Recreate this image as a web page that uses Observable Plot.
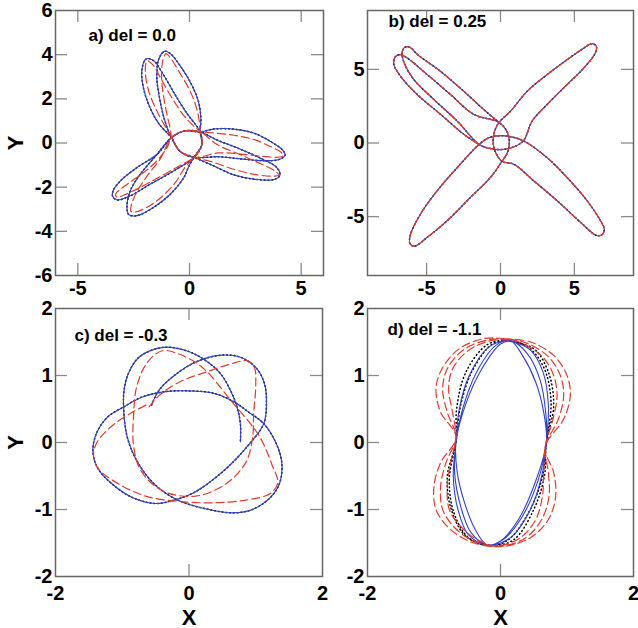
<!DOCTYPE html>
<html><head><meta charset="utf-8">
<script src="https://cdn.jsdelivr.net/npm/d3@7"></script>
<script src="https://cdn.jsdelivr.net/npm/@observablehq/plot@0.6"></script>
<style>
html,body{margin:0;padding:0;background:#fff;overflow:hidden}
#wrap{position:relative;width:638px;height:628px}
#wrap svg{position:absolute;left:0;top:0}
</style></head>
<body><div id="wrap"></div>
<script>
// ---------- data (x, y) ----------
// panel a) del = 0.0  (blue solid and black dotted nearly coincide)
const aBlue = [[-0.8,0.25],[-1.39,0.9],[-1.79,1.65],[-2.06,2.48],[-2.13,3.31],[-1.95,3.8],[-1.62,3.74],[-1.16,3.08],[-0.64,2.18],[-0.12,1.35],[0.33,0.75],[0.48,0.5],
 [0.55,-0.08],[0.2,-0.65],
 [-0.7,-1.26],[-1.75,-1.86],[-2.65,-2.39],[-3.24,-2.58],[-3.44,-2.42],[-3.42,-2.16],[-3.09,-1.71],[-2.35,-1.11],[-1.45,-0.51],[-0.8,0.25],
 [-0.2,0.55],[0.48,0.5],
 [1.07,0.63],[1.97,0.63],[2.87,0.45],[3.61,0.08],[4.15,-0.3],[4.28,-0.55],[4.0,-0.75],[3.3,-0.8],[2.3,-0.72],[1.3,-0.62],[0.2,-0.65],
 [-0.42,-0.38],[-0.8,0.25],
 [-0.94,0.53],[-1.16,1.2],[-1.34,2.03],[-1.46,2.93],[-1.39,3.76],[-1.12,4.15],[-0.87,4.06],[-0.34,3.38],[0.1,2.63],[0.4,1.88],[0.51,1.13],[0.48,0.5],
 [0.55,-0.08],[0.2,-0.65],
 [-0.05,-1.1],[-0.25,-1.56],[-0.85,-2.31],[-1.6,-2.91],[-2.35,-3.29],[-2.72,-3.24],[-2.8,-2.91],[-2.65,-2.16],[-2.2,-1.41],[-1.52,-0.59],[-0.8,0.25],
 [-0.2,0.55],[0.48,0.5],
 [1.2,0.15],[2.2,-0.25],[3.2,-0.7],[3.9,-1.1],[4.05,-1.45],[3.8,-1.65],[3.0,-1.65],[2.0,-1.45],[1.0,-1.0],[0.2,-0.65],
 [-0.42,-0.38],[-0.8,0.25]];
const aBlack = aBlue;
const aRed = [[-0.8,0.25],[-1.2,0.95],[-1.6,1.75],[-1.88,2.55],[-1.98,3.3],[-1.9,3.72],[-1.65,3.55],[-1.3,2.95],[-0.85,2.15],[-0.3,1.3],[0.2,0.75],[0.48,0.5],
 [0.55,-0.08],[0.2,-0.65],
 [-0.3,-0.95],[-1.1,-1.4],[-2.0,-1.9],[-2.8,-2.3],[-3.25,-2.45],[-3.3,-2.3],[-2.9,-1.95],[-2.2,-1.45],[-1.5,-0.85],[-1.0,-0.2],[-0.8,0.25],
 [-0.2,0.55],[0.48,0.5],
 [1.1,0.45],[2.0,0.35],[2.9,0.15],[3.6,-0.15],[4.1,-0.42],[4.2,-0.58],[3.9,-0.65],[3.2,-0.6],[2.3,-0.5],[1.3,-0.45],[0.2,-0.65],
 [-0.42,-0.38],[-0.8,0.25],
 [-0.85,0.6],[-1.0,1.25],[-1.15,2.05],[-1.25,2.95],[-1.2,3.7],[-1.05,4.05],[-0.85,3.85],[-0.45,3.2],[-0.05,2.5],[0.25,1.8],[0.42,1.1],[0.48,0.5],
 [0.55,-0.08],[0.2,-0.65],
 [-0.2,-1.1],[-0.6,-1.75],[-1.2,-2.4],[-1.8,-2.85],[-2.4,-3.12],[-2.62,-3.1],[-2.6,-2.8],[-2.35,-2.2],[-1.9,-1.5],[-1.3,-0.7],[-0.8,0.25],
 [-0.2,0.55],[0.48,0.5],
 [1.2,-0.05],[2.2,-0.5],[3.1,-0.9],[3.8,-1.25],[4.0,-1.45],[3.7,-1.5],[2.9,-1.42],[2.0,-1.2],[1.0,-0.85],[0.2,-0.65],
 [-0.42,-0.38],[-0.8,0.25]];

// panel b) del = 0.25  (the three curves coincide)
const bOrbit = [[-1.45,-0.1],[-2.48,0.59],[-4.05,1.94],[-5.63,3.29],[-6.76,4.53],[-7.22,5.35],[-7.12,5.85],[-6.8,6.0],[-6.35,5.8],[-4.95,4.64],[-3.38,3.29],[-1.8,1.94],[-0.1,1.4],
 [0.45,0.75],[0.6,0.0],[0.45,-0.7],[0.1,-1.25],
 [-0.68,-2.34],[-2.03,-3.69],[-3.6,-5.27],[-4.95,-6.4],[-5.8,-7.0],[-6.12,-6.85],[-6.1,-6.25],[-5.41,-4.82],[-4.28,-3.24],[-2.93,-1.67],[-1.45,-0.1],
 [-0.8,0.35],[0.0,0.5],[0.8,0.4],[1.55,0.15],
 [3.15,-0.99],[4.5,-2.34],[5.86,-3.92],[6.76,-5.27],[7.02,-5.85],[6.88,-6.22],[6.5,-6.28],[5.41,-5.38],[3.83,-3.92],[2.25,-2.57],[0.9,-1.44],[0.1,-1.25],
 [-0.35,-0.6],[-0.5,0.05],[-0.4,0.8],[-0.1,1.4],
 [0.68,2.16],[1.8,3.51],[3.15,4.64],[4.5,5.65],[5.63,6.44],[6.18,6.75],[6.48,6.58],[6.42,6.12],[5.63,5.09],[4.5,3.96],[3.15,2.61],[2.14,1.49],[1.55,0.15],
 [0.8,-0.3],[0.0,-0.45],[-0.8,-0.35],[-1.45,-0.1],
 [-2.93,1.49],[-4.5,2.95],[-5.86,4.3],[-6.5,5.4],[-6.66,6.15],[-6.45,6.52],[-6.1,6.48],[-5.63,6.02],[-4.05,4.86],[-2.48,3.51],[-1.13,2.27],[-0.1,1.4]];

// panel c) del = -0.3
const cBlue = [[-0.56,0.56],[-0.45,0.78],[-0.22,1.0],[0.1,1.2],[0.45,1.3],[0.75,1.28],[1.0,1.12],[1.13,0.88],[1.16,0.6],[1.12,0.28],
 [0.88,-0.05],[0.6,-0.35],[0.3,-0.6],[0.05,-0.76],[-0.19,-0.85],
 [-0.5,-0.91],[-0.85,-0.82],[-1.15,-0.62],[-1.37,-0.38],[-1.44,-0.12],[-1.38,0.15],[-1.22,0.38],[-0.98,0.53],
 [-0.7,0.68],[-0.35,0.76],[0.0,0.77],[0.35,0.74],[0.65,0.62],[0.9,0.45],[1.12,0.28],
 [1.3,0.0],[1.39,-0.3],[1.36,-0.6],[1.22,-0.82],[0.95,-1.0],[0.67,-1.05],[0.3,-1.0],[-0.19,-0.85],
 [-0.55,-0.59],[-0.8,-0.24],[-0.93,0.1],[-0.98,0.53],
 [-0.97,0.8],[-0.9,1.05],[-0.74,1.28],[-0.39,1.42],[-0.04,1.37],[0.24,1.23],[0.47,1.03],[0.62,0.78],[0.72,0.53],[0.77,0.28],[0.77,0.01]];
const cBlack = cBlue;
const cRed = [[-0.6,0.53],[-0.45,0.7],[-0.15,0.9],[0.25,1.05],[0.62,1.17],[0.88,1.22],[0.98,1.12],[1.0,0.85],[0.97,0.45],[0.95,0.05],[0.85,-0.3],[0.55,-0.62],[0.1,-0.8],[-0.4,-0.72],[-0.72,-0.42],[-0.83,-0.05],[-0.83,0.4],[-0.78,0.85],[-0.62,1.2],[-0.4,1.37],[-0.15,1.32],[0.2,1.12],[0.65,0.6],[1.05,0.1],[1.25,-0.35],[1.33,-0.6],[1.22,-0.76],[0.85,-0.86],[0.35,-0.9],[-0.15,-0.88],[-0.65,-0.8],[-1.05,-0.62],[-1.35,-0.4],[-1.43,-0.2],[-1.38,0.0],[-1.15,0.25],[-0.85,0.45],[-0.6,0.58]];

// panel d) del = -1.1
const dBlue = [[0.15,1.52],[0.45,1.38],[0.64,1.05],[0.72,0.55],[0.69,0.0],[0.62,-0.5],[0.45,-1.0],[0.15,-1.42],[-0.2,-1.53],[-0.48,-1.38],[-0.64,-1.0],[-0.71,-0.5],[-0.67,0.0],[-0.62,0.5],[-0.47,1.0],[-0.18,1.42],[0.15,1.52],
 [0.4,1.33],[0.59,0.95],[0.68,0.45],[0.69,0.0],[0.57,-0.55],[0.33,-1.1],[0.04,-1.45],[-0.2,-1.53],[-0.44,-1.35],[-0.6,-0.95],[-0.69,-0.45],[-0.67,0.0],[-0.57,0.5],[-0.36,1.05],[-0.07,1.45],[0.15,1.52],
 [0.33,1.3],[0.53,0.9],[0.65,0.45],[0.69,0.0],[0.52,-0.6],[0.27,-1.15],[0.0,-1.47],[-0.2,-1.53],[-0.38,-1.3],[-0.54,-0.9],[-0.65,-0.45],[-0.67,0.0],[-0.52,0.58],[-0.28,1.1],[0.0,1.47],[0.15,1.52]];
const dBlack = [[0.1,1.52],[0.5,1.4],[0.72,1.05],[0.8,0.55],[0.69,0.0],[0.66,-0.5],[0.5,-1.0],[0.2,-1.45],[-0.15,-1.54],[-0.52,-1.4],[-0.74,-1.0],[-0.8,-0.5],[-0.67,0.0],[-0.66,0.5],[-0.52,1.05],[-0.2,1.46],[0.1,1.52],
 [0.42,1.42],[0.66,1.1],[0.76,0.6],[0.69,0.0],[0.62,-0.55],[0.42,-1.05],[0.12,-1.45],[-0.15,-1.54],[-0.48,-1.42],[-0.7,-1.05],[-0.77,-0.55],[-0.67,0.0],[-0.6,0.55],[-0.42,1.08],[-0.12,1.47],[0.1,1.52]];
const dRed = [[0.05,1.55],[0.45,1.5],[0.8,1.3],[1.0,1.0],[1.05,0.7],[0.95,0.35],[0.67,-0.07],[0.8,-0.45],[0.83,-0.8],[0.72,-1.15],[0.45,-1.42],[0.05,-1.55],[-0.4,-1.5],[-0.75,-1.3],[-0.97,-1.0],[-1.0,-0.65],[-0.9,-0.3],[-0.67,0.08],[-0.9,0.45],[-0.97,0.8],[-0.88,1.1],[-0.62,1.4],[-0.25,1.55],[0.05,1.55],
 [0.4,1.48],[0.72,1.28],[0.9,1.0],[0.95,0.7],[0.87,0.35],[0.67,-0.07],[0.72,-0.45],[0.73,-0.8],[0.62,-1.15],[0.38,-1.42],[0.0,-1.55],[-0.38,-1.48],[-0.68,-1.28],[-0.87,-1.0],[-0.9,-0.65],[-0.82,-0.3],[-0.67,0.08],[-0.8,0.45],[-0.87,0.8],[-0.8,1.1],[-0.56,1.38],[-0.2,1.53],[0.1,1.54],
 [0.35,1.47],[0.64,1.27],[0.8,1.0],[0.85,0.7],[0.79,0.35],[0.67,-0.07],[0.65,-0.45],[0.63,-0.8],[0.53,-1.15],[0.3,-1.42],[-0.05,-1.54],[-0.35,-1.45],[-0.6,-1.25],[-0.77,-1.0],[-0.8,-0.65],[-0.75,-0.3],[-0.67,0.08],[-0.72,0.45],[-0.78,0.8],[-0.72,1.1],[-0.5,1.36],[-0.15,1.52],[0.15,1.53]];

// ticks and labels
const aXTicks = [-5,0,5], aXLabels = [-5,0,5], aYTicks = [-4,-2,0,2,4], aYLabels = [-6,-4,-2,0,2,4,6];
const bXTicks = [-5,0,5], bXLabels = [-5,0,5], bYTicks = [-5,0,5], bYLabels = [-5,0,5];
const cdXTicks = [0], cdXLabels = [-2,0,2], cdYTicks = [-1,0,1], cdYLabels = [-2,-1,0,1,2];
const titles = ["a) del = 0.0","b) del = 0.25","c) del = -0.3","d) del = -1.1"];

// ---------- drawing ----------
const W = 638, H = 628;
const BLUE = "#3042cc", RED = "#e03a2c", BLACK = "#000";
const FONT = "'Liberation Sans', Arial, Helvetica, sans-serif";

function panel(o) {
  const [L, T, R, B] = o.frame;
  const tl = 12;
  const ky = (o.yd[1] - o.yd[0]) / (B - T) * tl;
  const kx = (o.xd[1] - o.xd[0]) / (R - L) * tl;
  const line = (data, stroke, w, dash) => Plot.line(data, {x: d => d[0], y: d => d[1], stroke, strokeWidth: w, strokeDasharray: dash, curve: "catmull-rom"});
  const tc = "#8a8a8a";
  const marks = [
    line(o.black, BLACK, 1.5, "0.8,3"),
    line(o.blue, BLUE, 1.1, null),
    line(o.red, RED, 1.2, "8,4"),
    Plot.ruleX(o.xt, {x: d => d, y1: o.yd[0], y2: o.yd[0] + ky, stroke: tc, strokeWidth: 1.3}),
    Plot.ruleX(o.xt, {x: d => d, y1: o.yd[1], y2: o.yd[1] - ky, stroke: tc, strokeWidth: 1.3}),
    Plot.ruleY(o.yt, {y: d => d, x1: o.xd[0], x2: o.xd[0] + kx, stroke: tc, strokeWidth: 1.3}),
    Plot.ruleY(o.yt, {y: d => d, x1: o.xd[1], x2: o.xd[1] - kx, stroke: tc, strokeWidth: 1.3}),
    Plot.frame({stroke: "#666", strokeWidth: 1.5}),
    Plot.axisX(o.xl, {anchor: "bottom", tickSize: 0, tickPadding: o.xpad, tickFormat: d => String(d), fontSize: 20, fontWeight: "bold", fill: "#000", label: null}),
    Plot.axisY(o.yl, {anchor: "left", tickSize: 0, tickPadding: 3, tickFormat: d => String(d), fontSize: 20, fontWeight: "bold", fill: "#000", label: null}),
    Plot.text([o.title], {frameAnchor: "top-left", dx: o.tdx, dy: o.tdy, textAnchor: "start", lineAnchor: "top", fontSize: 17, fontWeight: "bold", fill: "#000"})
  ];
  if (o.ylab) marks.push(Plot.text(["Y"], {frameAnchor: "left", dx: -39.5, rotate: -90, textAnchor: "middle", lineAnchor: "middle", fontSize: 22, fontWeight: "bold", fill: "#000"}));
  if (o.xlab) marks.push(Plot.text(["X"], {frameAnchor: "bottom", dy: 41, textAnchor: "middle", lineAnchor: "middle", fontSize: 22, fontWeight: "bold", fill: "#000"}));
  return Plot.plot({
    width: W, height: H,
    marginLeft: L, marginRight: W - R, marginTop: T, marginBottom: H - B,
    x: {domain: o.xd}, y: {domain: o.yd},
    style: {background: "transparent", fontFamily: FONT, overflow: "visible"},
    marks
  });
}

const wrap = document.getElementById("wrap");
wrap.appendChild(panel({frame: [55, 10, 323, 275], xd: [-6, 6], yd: [-6, 6], xt: aXTicks, xl: aXLabels, yt: aYTicks, yl: aYLabels,
  blue: aBlue, black: aBlack, red: aRed, title: titles[0], tdx: 33, tdy: 18, xpad: 5, ylab: true}));
wrap.appendChild(panel({frame: [367, 10, 633, 275], xd: [-9, 9], yd: [-9, 9], xt: bXTicks, xl: bXLabels, yt: bYTicks, yl: bYLabels,
  blue: bOrbit, black: bOrbit, red: bOrbit, title: titles[1], tdx: 21, tdy: 4, xpad: 5}));
wrap.appendChild(panel({frame: [55, 308, 322, 576], xd: [-2, 2], yd: [-2, 2], xt: cdXTicks, xl: cdXLabels, yt: cdYTicks, yl: cdYLabels,
  blue: cBlue, black: cBlack, red: cRed, title: titles[2], tdx: 19, tdy: 20, xpad: 9, ylab: true, xlab: true}));
wrap.appendChild(panel({frame: [367, 308, 633, 576], xd: [-2, 2], yd: [-2, 2], xt: cdXTicks, xl: cdXLabels, yt: cdYTicks, yl: cdYLabels,
  blue: dBlue, black: dBlack, red: dRed, title: titles[3], tdx: 20, tdy: 14, xpad: 9, xlab: true}));
</script>
</body></html>
